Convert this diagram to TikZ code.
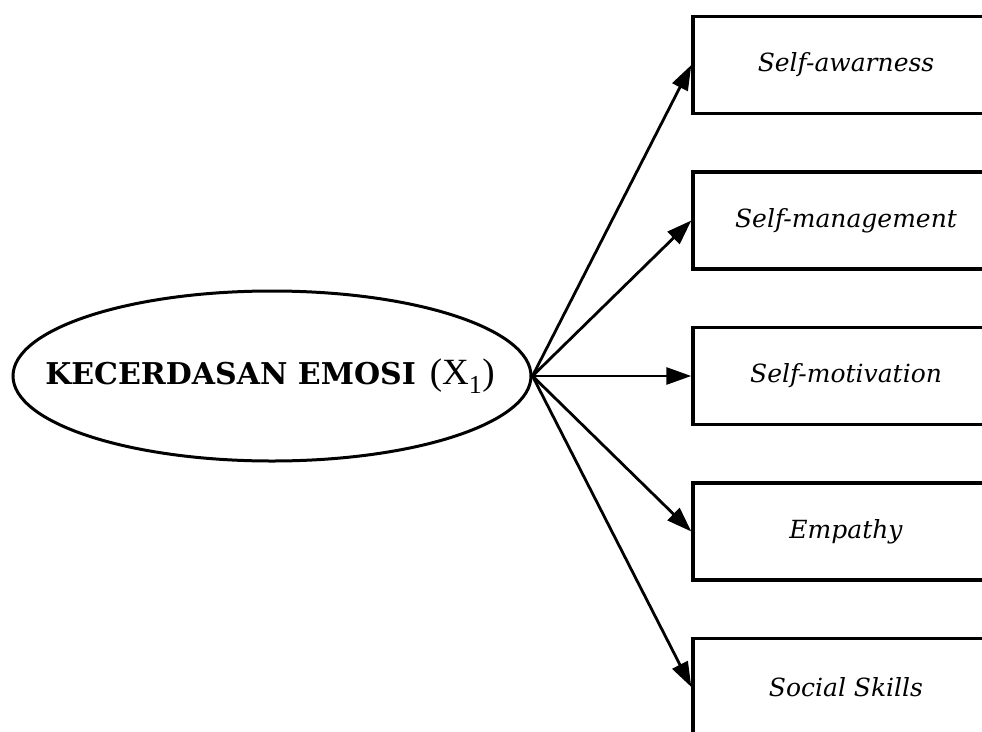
\documentclass[tikz,border=0pt]{standalone}
\usepackage{fontspec}
\setmainfont{DejaVu Serif}
\newfontfamily\subfont{Liberation Serif}
\usetikzlibrary{shapes.geometric,arrows.meta}
\tikzset{
  px/.style={x=1pt,y=-1pt},
  latent/.style={ellipse,draw,line width=3pt,minimum width=518pt,minimum height=170pt,inner sep=0pt},
  latentlabel/.style={inner sep=0pt,font=\fontsize{30}{35}\selectfont},
  indicator/.style={rectangle,draw,line width=3.4pt,minimum width=306pt,minimum height=97pt,inner sep=0pt,
    font=\fontsize{25}{30}\selectfont\itshape},
  link/.style={line width=2.8pt,-{Triangle[length=25pt,width=17pt]}}
}
\begin{document}
\begin{tikzpicture}[px]
  \useasboundingbox (0,0) rectangle (982,731);
  \clip (0,0) rectangle (982,731);
  % latent construct
  \node[latent] (ell) at (272,376) {};
  \node[latentlabel] (elltext) at (270,376) {\textbf{KECERDASAN EMOSI}\hspace{14pt}{\subfont\fontsize{37}{41}\selectfont(X\textsubscript{1})}};
  % indicators
  \node[indicator] (b1) at (846,65) {Self-awarness};
  \node[indicator] (b2) at (846,220.5) {Self-management};
  \node[indicator] (b3) at (846,376) {Self-motivation};
  \node[indicator] (b4) at (846,531.5) {Empathy};
  \node[indicator] (b5) at (846,687) {Social Skills};
  % paths from construct to indicators
  \foreach \b in {b1,b2,b3,b4,b5}
    \draw[link] (ell.east) -- (\b.west);
\end{tikzpicture}
\end{document}
